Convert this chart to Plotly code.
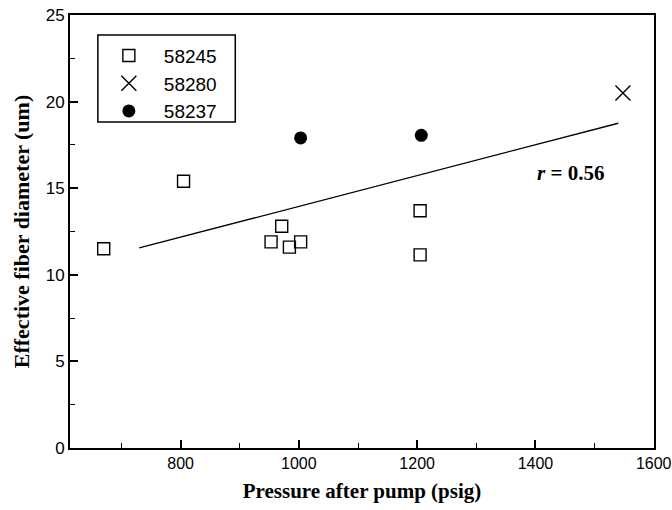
import plotly.graph_objects as go

# Effective fiber diameter vs. pressure after pump, by sample
pressure_58245 = [670, 805, 953, 971, 984, 1003, 1205, 1205]
diameter_58245 = [11.5, 15.4, 11.9, 12.8, 11.6, 11.9, 13.7, 11.15]

pressure_58280 = [1548]
diameter_58280 = [20.5]

pressure_58237 = [1003, 1207]
diameter_58237 = [17.9, 18.05]

# Linear trend across all samples (end points)
trend_pressure = [730, 1540]
trend_diameter = [11.55, 18.75]

x_ticks = [800, 1000, 1200, 1400, 1600]
y_ticks = [0, 5, 10, 15, 20, 25]

serif = "Liberation Serif"
sans = "Liberation Sans"

fig = go.Figure()

fig.add_trace(go.Scatter(
    x=trend_pressure, y=trend_diameter, mode="lines",
    line=dict(color="black", width=1.3), showlegend=False, hoverinfo="skip",
))
fig.add_trace(go.Scatter(
    x=pressure_58245, y=diameter_58245, mode="markers", name="58245",
    marker=dict(symbol="square-open", size=12, color="black",
                line=dict(width=1.4, color="black")),
))
fig.add_trace(go.Scatter(
    x=pressure_58280, y=diameter_58280, mode="markers", name="58280",
    marker=dict(symbol="x-thin-open", size=15, color="black",
                line=dict(width=1.4, color="black")),
))
fig.add_trace(go.Scatter(
    x=pressure_58237, y=diameter_58237, mode="markers", name="58237",
    marker=dict(symbol="circle", size=13, color="black"),
))

fig.add_annotation(
    x=1460, y=15.9, xref="x", yref="y",
    text="<b><i>r</i> = 0.56</b>", showarrow=False,
    font=dict(family=serif, size=21, color="black"),
)

# Frame around the legend entries
fig.add_shape(
    type="rect", xref="paper", yref="paper",
    x0=0.0477, x1=0.283, y0=0.753, y1=0.954,
    line=dict(color="black", width=1.5), fillcolor="rgba(0,0,0,0)",
    layer="above",
)

axis_common = dict(
    showgrid=False, zeroline=False, showline=True, linecolor="black",
    linewidth=2, mirror=True, ticks="inside", ticklen=8, tickwidth=1.5,
    tickcolor="black", ticklabeloverflow="allow", automargin=False,
)

fig.update_xaxes(
    range=[613, 1600.5], tickvals=x_ticks,
    tickfont=dict(family=sans, size=16, color="black"),
    minor=dict(dtick=100, tick0=700, ticks="inside", ticklen=5,
               tickwidth=1.3, tickcolor="black"),
    title=dict(text="<b>Pressure after pump (psig)</b>",
               font=dict(family=serif, size=21, color="black"), standoff=12),
    **axis_common,
)
fig.update_yaxes(
    range=[0, 25], tickvals=y_ticks,
    tickfont=dict(family=sans, size=17, color="black"),
    minor=dict(dtick=2.5, ticks="inside", ticklen=5,
               tickwidth=1.3, tickcolor="black"),
    title=dict(text="<b>Effective fiber diameter (um)</b>",
               font=dict(family=serif, size=22, color="black"), standoff=10),
    **axis_common,
)

fig.update_layout(
    width=672, height=510,
    margin=dict(l=70, r=18, t=15, b=62),
    plot_bgcolor="white", paper_bgcolor="white",
    legend=dict(
        x=0.0477, y=0.95, xanchor="left", yanchor="top",
        borderwidth=0, bgcolor="rgba(0,0,0,0)",
        font=dict(family=sans, size=19, color="black"),
        itemwidth=60, indentation=-4,
    ),
)

fig.write_html("out.html")
